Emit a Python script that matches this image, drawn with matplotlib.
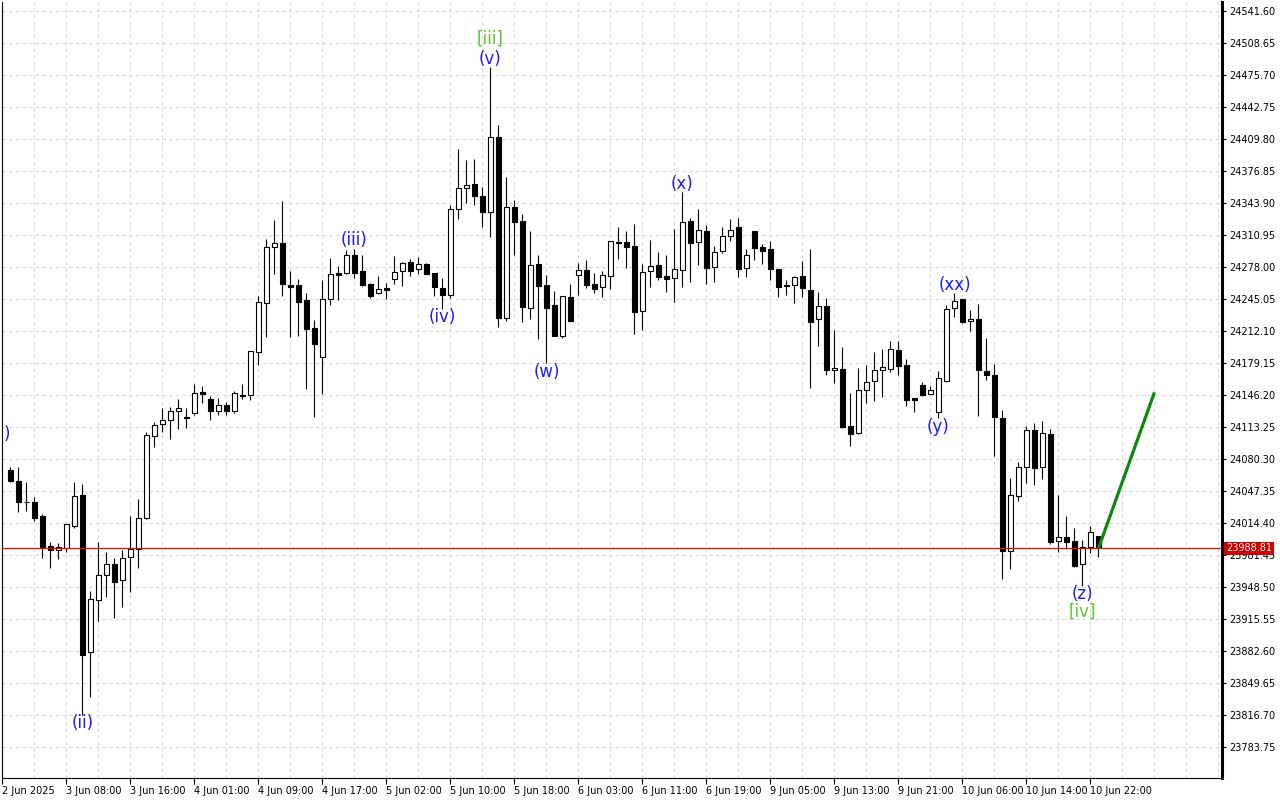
import matplotlib
matplotlib.use("Agg")
import matplotlib.pyplot as plt
import matplotlib.transforms as mtransforms
import numpy as np

# ---------------------------------------------------------------------------
# Data (H1 candles)
# ---------------------------------------------------------------------------
opens = [
    24069.4, 24058.1, 24036.5, 24036.5, 24022.1, 23991.2, 23987.1, 23989.4, 24011.8, 24043.4,
    23881.7, 23935.3, 23961.0, 23972.3, 23955.9, 23979.5, 23987.8, 24019.7, 24104.5, 24116.5,
    24120.9, 24129.9, 24124.3, 24127.8, 24149.7, 24142.5, 24129.9, 24136.1, 24129.9, 24146.7,
    24146.4, 24191.3, 24241.1, 24298.8, 24303.2, 24259.6, 24259.6, 24244.5, 24215.7, 24186.1,
    24245.2, 24271.8, 24272.0, 24290.5, 24274.4, 24261.0, 24252.0, 24256.8, 24266.4, 24274.0,
    24283.3, 24276.1, 24281.2, 24272.0, 24256.5, 24249.6, 24337.9, 24359.5, 24363.9, 24351.6,
    24334.8, 24412.0, 24225.6, 24339.9, 24325.8, 24236.0, 24281.2, 24259.6, 24239.0, 24206.9,
    24247.6, 24269.9, 24275.4, 24260.6, 24257.6, 24268.9, 24304.2, 24304.2, 24299.8, 24232.9,
    24274.0, 24280.2, 24268.9, 24266.8, 24275.1, 24325.5, 24303.9, 24315.2, 24278.2, 24294.6,
    24310.1, 24319.3, 24277.1, 24315.2, 24298.8, 24296.7, 24276.1, 24259.6, 24259.6, 24269.2,
    24254.5, 24224.6, 24238.3, 24172.1, 24173.1, 24114.4, 24107.2, 24151.5, 24160.8, 24172.1,
    24173.8, 24192.7, 24177.6, 24143.3, 24157.0, 24147.4, 24129.5, 24160.8, 24235.9, 24245.2,
    24222.6, 24224.9, 24171.4, 24167.3, 24123.0, 23986.4, 24043.0, 24072.8, 24110.3, 24072.8,
    24106.2, 23996.0, 24000.1, 23996.0, 23972.3, 23989.9, 24001.2]

highs = [
    24072.8, 24072.5, 24057.1, 24041.6, 24024.1, 23995.3, 23993.9, 24013.5, 24057.1, 24055.0,
    23944.8, 23995.0, 23985.0, 23978.8, 23987.1, 24021.8, 24039.6, 24108.3, 24119.2, 24133.0,
    24134.0, 24142.5, 24133.0, 24157.7, 24155.9, 24145.7, 24143.3, 24139.5, 24151.1, 24158.0,
    24191.7, 24248.6, 24307.0, 24326.9, 24346.4, 24274.4, 24266.1, 24251.4, 24223.9, 24265.1,
    24287.7, 24279.5, 24296.0, 24296.7, 24290.5, 24261.5, 24269.2, 24261.7, 24289.8, 24283.3,
    24286.4, 24288.5, 24282.3, 24272.5, 24266.8, 24342.0, 24400.3, 24388.7, 24390.0, 24361.2,
    24484.7, 24424.7, 24371.1, 24347.5, 24333.0, 24315.8, 24290.8, 24269.9, 24253.7, 24248.3,
    24260.8, 24282.6, 24285.7, 24272.0, 24274.0, 24304.9, 24319.3, 24315.2, 24322.7, 24281.2,
    24306.3, 24293.9, 24290.8, 24317.3, 24355.7, 24328.6, 24337.9, 24321.7, 24300.1, 24319.3,
    24327.9, 24328.9, 24297.0, 24315.7, 24302.1, 24304.9, 24276.5, 24264.8, 24268.7, 24284.6,
    24296.7, 24252.7, 24246.2, 24213.6, 24196.1, 24148.7, 24174.2, 24177.9, 24191.0, 24193.7,
    24202.6, 24202.3, 24183.7, 24143.6, 24159.7, 24155.9, 24171.4, 24239.0, 24251.4, 24245.5,
    24233.9, 24240.1, 24205.1, 24178.3, 24131.2, 24061.2, 24077.7, 24114.7, 24117.5, 24119.6,
    24111.7, 24043.4, 24021.8, 24009.7, 23997.0, 24011.5, 24001.5]

lows = [
    24057.1, 24025.9, 24027.5, 24017.2, 23979.1, 23968.8, 23978.1, 23985.3, 24009.4, 23817.2,
    23836.0, 23914.3, 23939.0, 23917.4, 23928.7, 23944.1, 23968.8, 24019.2, 24092.8, 24108.9,
    24101.1, 24111.4, 24112.4, 24126.1, 24138.7, 24121.2, 24126.4, 24125.8, 24127.8, 24142.2,
    24141.8, 24177.9, 24206.7, 24271.6, 24249.0, 24206.7, 24207.7, 24153.2, 24124.3, 24148.0,
    24239.3, 24244.5, 24271.3, 24267.4, 24259.2, 24246.9, 24250.7, 24245.8, 24261.0, 24258.9,
    24269.2, 24271.3, 24271.0, 24248.6, 24235.5, 24246.9, 24328.2, 24344.7, 24342.0, 24319.3,
    24309.7, 24217.0, 24223.2, 24290.8, 24222.1, 24224.9, 24204.3, 24179.3, 24207.4, 24205.1,
    24223.0, 24250.0, 24257.1, 24252.0, 24247.9, 24256.1, 24287.0, 24277.7, 24209.2, 24213.9,
    24257.6, 24265.1, 24253.0, 24242.7, 24258.2, 24263.3, 24280.5, 24261.3, 24263.3, 24293.2,
    24305.6, 24268.5, 24268.5, 24286.0, 24281.2, 24265.4, 24247.9, 24250.0, 24241.1, 24247.3,
    24153.6, 24197.4, 24167.0, 24159.3, 24113.0, 24094.5, 24107.0, 24138.7, 24140.8, 24144.3,
    24170.7, 24167.3, 24135.7, 24129.5, 24146.0, 24147.2, 24122.7, 24160.5, 24227.0, 24221.1,
    24212.6, 24125.4, 24162.4, 24084.2, 23957.5, 23967.8, 24037.2, 24056.4, 24054.3, 24060.5,
    23992.9, 23985.3, 23987.8, 23969.6, 23950.3, 23984.3, 23980.2]

closes = [
    24058.1, 24036.8, 24036.2, 24020.3, 23990.5, 23986.8, 23989.9, 24013.5, 24042.4, 23879.3,
    23936.3, 23961.0, 23972.3, 23954.4, 23978.5, 23987.8, 24019.7, 24105.2, 24115.5, 24120.9,
    24130.2, 24133.0, 24123.3, 24148.4, 24147.4, 24130.5, 24136.1, 24129.9, 24148.4, 24146.0,
    24191.7, 24242.1, 24298.8, 24302.9, 24260.7, 24258.2, 24242.7, 24214.9, 24199.5, 24245.2,
    24270.9, 24270.5, 24290.5, 24272.6, 24259.9, 24248.6, 24255.5, 24254.8, 24273.0, 24282.3,
    24274.7, 24281.2, 24271.6, 24257.6, 24250.0, 24337.9, 24359.5, 24362.9, 24351.9, 24335.4,
    24412.0, 24226.3, 24339.9, 24325.1, 24237.0, 24280.2, 24259.2, 24236.0, 24207.7, 24248.3,
    24223.2, 24275.4, 24260.2, 24256.1, 24269.9, 24304.9, 24302.9, 24299.4, 24232.4, 24273.0,
    24279.2, 24268.5, 24266.4, 24276.1, 24324.5, 24303.5, 24316.3, 24277.7, 24293.6, 24310.1,
    24316.3, 24276.7, 24290.5, 24298.4, 24295.3, 24276.7, 24257.6, 24258.6, 24267.9, 24256.5,
    24221.5, 24238.0, 24172.7, 24174.5, 24113.7, 24106.8, 24151.5, 24159.7, 24172.1, 24175.5,
    24194.1, 24176.8, 24141.8, 24141.8, 24147.0, 24152.1, 24163.9, 24234.9, 24243.8, 24222.1,
    24224.9, 24172.1, 24167.0, 24123.7, 23986.4, 24043.4, 24072.2, 24110.3, 24071.8, 24107.2,
    23995.6, 24000.8, 23995.6, 23970.6, 23989.9, 24005.3, 23988.81]

current_price = 23988.81

# projection line (bar index, price)
proj_x = [136, 143]
proj_y = [23988.81, 24149.4]

# wave labels (the first one is cut by the chart edge, only ")" shows)
wave_text = [")", "(ii)", "(iii)", "(iv)", "[iii]", "(v)", "(w)", "(x)",
             "(xx)", "(y)", "(z)", "[iv]"]
wave_x = [-0.4, 9, 43, 54, 60, 60, 67, 84, 118, 116, 134, 134]
wave_y = [24106, 23809, 24306, 24227, 24513, 24493, 24170, 24364,
          24260, 24114, 23942, 23923]
wave_color = ["blue", "blue", "blue", "blue", "green", "blue", "blue", "blue",
              "blue", "blue", "blue", "green"]

# axis ticks
price_ticks = [24541.60 - 32.95 * n for n in range(24)]
time_tick_idx = [-1, 7, 15, 23, 31, 39, 47, 55, 63, 71, 79, 87, 95, 103, 111, 119, 127, 135]
time_tick_lbl = ["2 Jun 2025", "3 Jun 08:00", "3 Jun 16:00", "4 Jun 01:00", "4 Jun 09:00",
                 "4 Jun 17:00", "5 Jun 02:00", "5 Jun 10:00", "5 Jun 18:00", "6 Jun 03:00",
                 "6 Jun 11:00", "6 Jun 19:00", "9 Jun 05:00", "9 Jun 13:00", "9 Jun 21:00",
                 "10 Jun 06:00", "10 Jun 14:00", "10 Jun 22:00"]

# ---------------------------------------------------------------------------
# Plot
# ---------------------------------------------------------------------------
fig = plt.figure(figsize=(12.8, 8), dpi=100)
fig.patch.set_facecolor("white")
ax = fig.add_axes([2 / 1280, 22 / 800, 1220 / 1280, 776 / 800])

x_lo, x_hi = -1.0625, 151.44
y_lo, y_hi = 23752.3, 24551.3
ax.set_xlim(x_lo, x_hi)
ax.set_ylim(y_lo, y_hi)

# grid
grid_kw = dict(color="#d8d8d8", linestyle=(0, (3, 3)), linewidth=0.8, zorder=0)
ax.hlines(price_ticks, x_lo, x_hi, **grid_kw)
ax.vlines(np.arange(-1, 152, 4), y_lo, y_hi, **grid_kw)

# candles
o = np.array(opens)
h = np.array(highs)
l = np.array(lows)
c = np.array(closes)
idx = np.arange(len(o))
bull = c > o

ax.vlines(idx, l, h, color="black", linewidth=0.8, zorder=2)
bottoms = np.minimum(o, c)
heights = np.maximum(np.abs(c - o), 0.3)
ax.bar(idx[bull], heights[bull], bottom=bottoms[bull], width=0.6,
       color="white", edgecolor="black", linewidth=0.8, zorder=3)
ax.bar(idx[~bull], heights[~bull], bottom=bottoms[~bull], width=0.6,
       color="black", edgecolor="black", linewidth=0.8, zorder=3)

# current price line
ax.axhline(current_price, color="#ff0000", linewidth=0.9, zorder=4)

# projection
ax.plot(proj_x, proj_y, color="#0a8a0a", linewidth=2.3, zorder=5,
        solid_capstyle="butt")

# wave labels
for txt, xx, yy, col in zip(wave_text, wave_x, wave_y, wave_color):
    ax.text(xx, yy, txt, ha="center", va="center", fontsize=12,
            color="#1a1aff" if col == "blue" else "#5cc42c",
            zorder=6, clip_on=True)

# axes styling
ax.spines["top"].set_visible(False)
ax.spines["left"].set_linewidth(0.8)
ax.spines["bottom"].set_linewidth(0.8)
ax.spines["right"].set_linewidth(2.2)

ax.yaxis.tick_right()
ax.set_yticks(price_ticks)
ax.set_yticklabels([f"{v:.2f}" for v in price_ticks])
ax.tick_params(axis="y", direction="out", length=3, width=0.8, labelsize=7, pad=2)

ax.set_xticks(time_tick_idx)
ax.set_xticklabels(time_tick_lbl)
ax.tick_params(axis="x", direction="out", length=4, width=0.8, labelsize=7, pad=2)
for lbl in ax.get_xticklabels():
    lbl.set_ha("left")

# price tag on the right scale
trans = mtransforms.blended_transform_factory(ax.transAxes, ax.transData)
ax.text(1.0 + 4 / 1220, current_price, f"{current_price:.2f}", transform=trans,
        ha="left", va="center", fontsize=7, color="white", zorder=10, clip_on=False,
        bbox=dict(boxstyle="square,pad=0.18", fc="#cc0000", ec="none"))

fig.savefig("out.png", dpi=100, facecolor="white")
plt.close(fig)
